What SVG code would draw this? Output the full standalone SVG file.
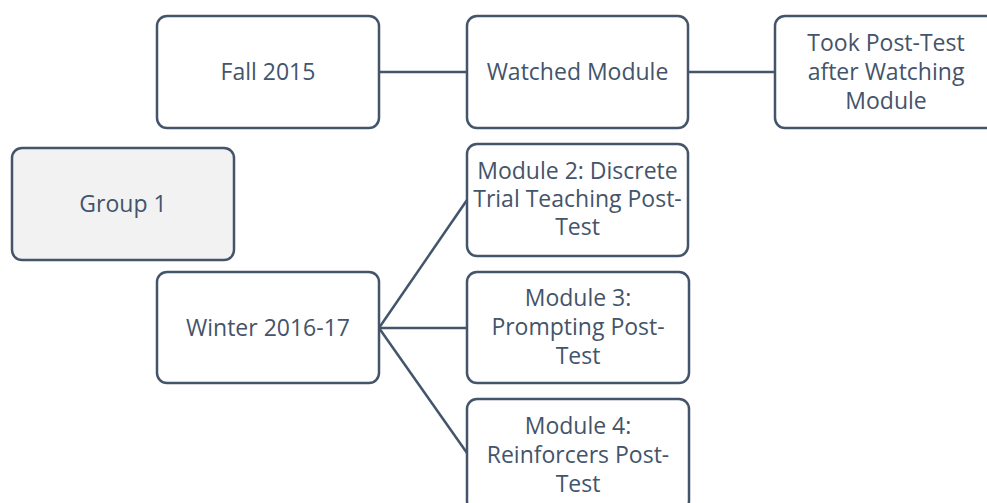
<svg xmlns="http://www.w3.org/2000/svg" width="987" height="503" viewBox="0 0 987 503">
<style>
.box{fill:#ffffff;stroke:#44546A;stroke-width:2.5}
.grp{fill:#F2F2F2;stroke:#44546A;stroke-width:2.5}
.lbl{font-family:"Open Sans","Noto Sans",sans-serif;font-size:23px;fill:#44546A;text-anchor:middle}
.con{stroke:#44546A;stroke-width:2.5;fill:none}
</style>
<rect width="987" height="503" fill="#ffffff"/>
<g id="connectors">
<line class="con" x1="379" y1="72" x2="467" y2="72"/>
<line class="con" x1="688" y1="72" x2="775" y2="72"/>
<line class="con" x1="379" y1="328" x2="467" y2="200"/>
<line class="con" x1="379" y1="328" x2="467" y2="328"/>
<line class="con" x1="379" y1="328" x2="467" y2="453"/>
</g>
<g id="group1">
<rect class="grp" x="12" y="148" width="222" height="112" rx="10"/>
<text class="lbl" x="123" y="212">Group 1</text>
</g>
<g id="fall2015">
<rect class="box" x="157" y="16" width="222" height="112" rx="10"/>
<text class="lbl" x="268" y="80">Fall 2015</text>
</g>
<g id="watched">
<rect class="box" x="467" y="16" width="221" height="112" rx="10"/>
<text class="lbl" x="577.5" y="80">Watched Module</text>
</g>
<g id="tookpost">
<rect class="box" x="775" y="16" width="222" height="112" rx="10"/>
<text class="lbl" x="886" y="51">Took Post-Test</text>
<text class="lbl" x="886" y="80">after Watching</text>
<text class="lbl" x="886" y="109">Module</text>
</g>
<g id="winter">
<rect class="box" x="157" y="272" width="222" height="111" rx="10"/>
<text class="lbl" x="268" y="336">Winter 2016-17</text>
</g>
<g id="module2">
<rect class="box" x="467" y="144" width="221" height="112" rx="10"/>
<text class="lbl" x="577.5" y="179">Module 2: Discrete</text>
<text class="lbl" x="577.5" y="207">Trial Teaching Post-</text>
<text class="lbl" x="577.5" y="235">Test</text>
</g>
<g id="module3">
<rect class="box" x="467" y="272" width="222" height="111" rx="10"/>
<text class="lbl" x="578" y="306">Module 3:</text>
<text class="lbl" x="578" y="335">Prompting Post-</text>
<text class="lbl" x="578" y="364">Test</text>
</g>
<g id="module4">
<rect class="box" x="467" y="399" width="222" height="112" rx="10"/>
<text class="lbl" x="578" y="434">Module 4:</text>
<text class="lbl" x="578" y="463">Reinforcers Post-</text>
<text class="lbl" x="578" y="492">Test</text>
</g>
</svg>
